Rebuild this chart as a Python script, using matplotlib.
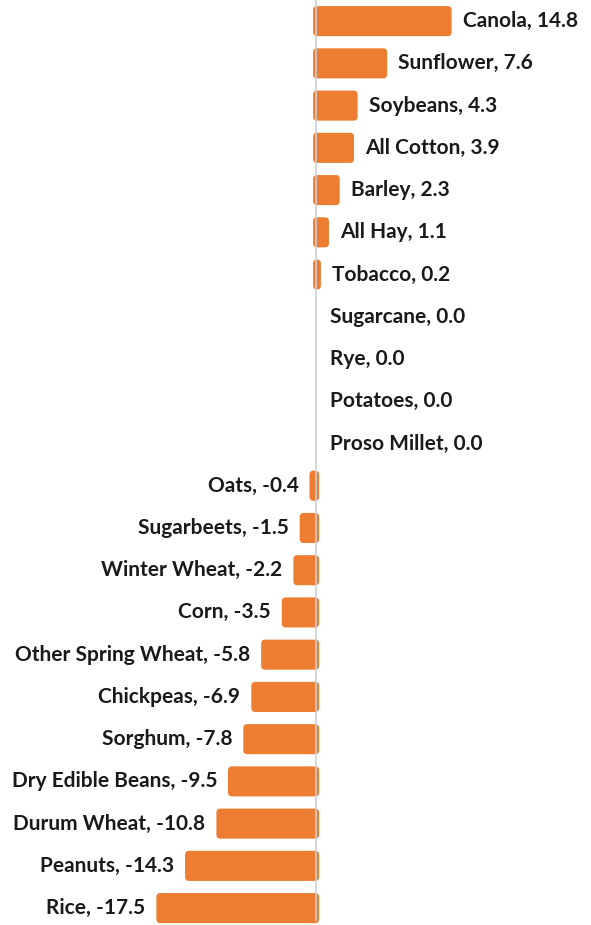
import matplotlib
matplotlib.use("Agg")
import matplotlib.pyplot as plt
from matplotlib.patches import FancyBboxPatch

crops = ["Canola", "Sunflower", "Soybeans", "All Cotton", "Barley", "All Hay",
         "Tobacco", "Sugarcane", "Rye", "Potatoes", "Proso Millet", "Oats",
         "Sugarbeets", "Winter Wheat", "Corn", "Other Spring Wheat", "Chickpeas",
         "Sorghum", "Dry Edible Beans", "Durum Wheat", "Peanuts", "Rice"]
change = [14.8, 7.6, 4.3, 3.9, 2.3, 1.1, 0.2, 0.0, 0.0, 0.0, 0.0, -0.4,
          -1.5, -2.2, -3.5, -5.8, -6.9, -7.8, -9.5, -10.8, -14.3, -17.5]

W, H = 591, 925
fig = plt.figure(figsize=(W / 100, H / 100), dpi=100)
ax = fig.add_axes([0, 0, 1, 1])

xmin, xmax = -35.3, 30.7
ymin, ymax = -0.5, 21.4
ax.set_xlim(xmin, xmax)
ax.set_ylim(ymax, ymin)
ax.axis("off")

px_x = W / (xmax - xmin)      # pixels per x unit
px_y = H / (ymax - ymin)      # pixels per y unit
aspect = px_x / px_y

orange = "#ED7D31"
bars = ax.barh(range(len(crops)), change, height=0.57, color=orange)

# replace plain rectangles with rounded ones
pad = 3 / px_x
for rect, v in zip(bars, change):
    x, y = rect.get_x(), rect.get_y()
    w, h = rect.get_width(), rect.get_height()
    rect.remove()
    if v == 0:
        continue
    if w < 0:
        x, w = x + w, -w
    ax.add_patch(FancyBboxPatch((x, y), w, h,
                                boxstyle=f"round,pad={pad},rounding_size={4 / px_x}",
                                mutation_aspect=aspect, facecolor=orange,
                                edgecolor="none", zorder=2))

ax.axvline(0, ymin=5 / H, ymax=1, color="#C9CFDB", lw=1.2, zorder=3)

font = ["Lato", "DejaVu Sans"]
off = 14 / px_x
for i, (name, v) in enumerate(zip(crops, change)):
    label = f"{name}, {v:.1f}"
    if v >= 0:
        ax.text(v + off, i, label, ha="left", va="center", fontsize=15,
                fontweight="bold", family=font, color="#1a1a1a")
    else:
        ax.text(v - off, i, label, ha="right", va="center", fontsize=15,
                fontweight="bold", family=font, color="#1a1a1a")

fig.savefig("out.png", dpi=100, facecolor="white")
